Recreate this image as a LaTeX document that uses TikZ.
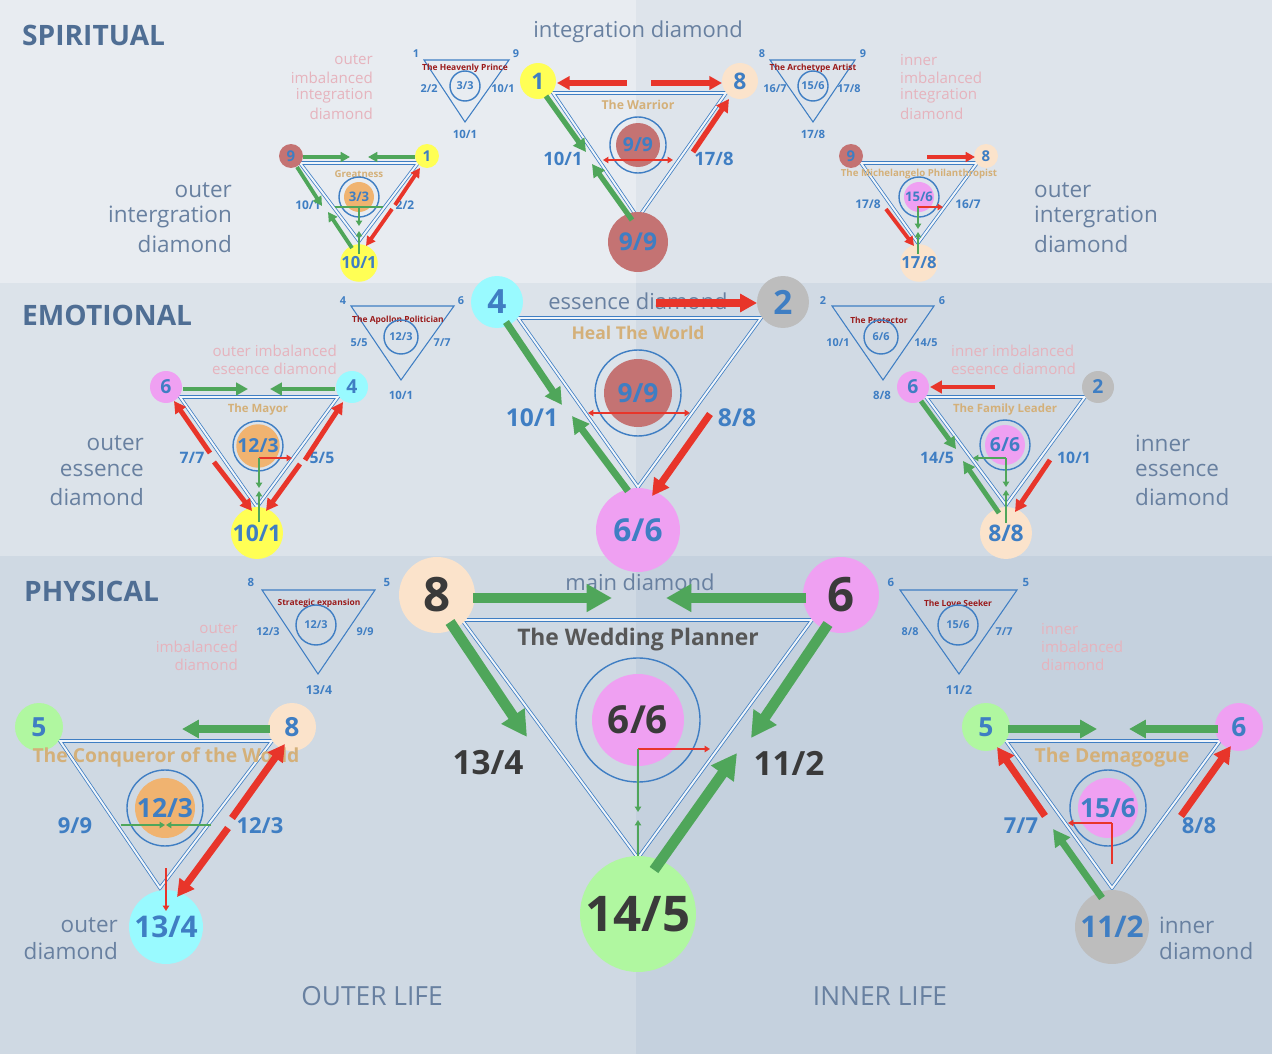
\documentclass[tikz,border=0pt]{standalone}
\usepackage{fontspec}
\setmainfont{Open Sans}
\usetikzlibrary{arrows.meta}
\definecolor{tblue}{HTML}{3F7EC3}
\definecolor{agreen}{HTML}{4FA65A}
\definecolor{ared}{HTML}{E8352A}
\definecolor{ctan}{HTML}{D4B079}
\definecolor{cpinkt}{HTML}{E6B3BD}
\definecolor{cgrey}{HTML}{6880A0}
\definecolor{chead}{HTML}{4F6E94}
\definecolor{cdred}{HTML}{9A1B1B}
\definecolor{cyel}{HTML}{FFFF55}
\definecolor{cpeach}{HTML}{FBE3CB}
\definecolor{cdr}{HTML}{C47373}
\definecolor{cpink}{HTML}{EFA0F2}
\definecolor{ccyan}{HTML}{99FAFF}
\definecolor{cgr}{HTML}{BDBDBD}
\definecolor{clg}{HTML}{B0F7A0}
\definecolor{cor}{HTML}{F0B370}
\definecolor{cdark}{HTML}{3A3A3A}
\definecolor{bga}{HTML}{E8ECF1}
\definecolor{bgb}{HTML}{DEE4EB}
\definecolor{bgc}{HTML}{DCE3EA}
\definecolor{bgd}{HTML}{D1DAE4}
\definecolor{bge}{HTML}{CFD9E3}
\definecolor{bgf}{HTML}{C5D1DE}
\newcommand\fsz[1]{\fontsize{#1pt}{#1pt}\selectfont}
\newcommand\ball[7][tblue]{\node[circle,fill=#2,minimum size={#3*0.04cm},inner sep=0pt,text=#1,font=\bfseries\fsz{#6}] at (#4,#5) {#7};}
\newcommand\ring[3]{\draw[tblue,line width=0.8pt] (#1,#2) circle[radius={#3*0.02cm}];}
\newcommand\tri[5]{\draw[triline] (#1,#3) -- (#2,#3) -- (#4,#5) -- cycle;}
\newcommand\stri[5]{\draw[tblue,line width=0.6pt] (#1,#3) -- (#2,#3) -- (#4,#5) -- cycle;}
\newcommand\lab[4]{\node[text=tblue,font=\bfseries\fsz{#1}] at (#2,#3) {#4};}
\newcommand\titl[4]{\node[text=ctan,font=\bfseries\fsz{#1}] at (#2,#3) {#4};}
\newcommand\stitl[3]{\node[text=cdred,font=\bfseries\fsz{4.8}] at (#1,#2) {#3};}
\newcommand\pr[4]{\node[text=cpinkt,font=\fsz{8.6},anchor=#1] at (#2,#3) {#4};}
\newcommand\gr[5]{\node[text=cgrey,font=\fsz{#1},anchor=#2] at (#3,#4) {#5};}
\tikzset{
 triline/.style={draw=tblue,line width=0.45pt,double=white!60!tblue!20,double distance=1.1pt},
 ga/.style={draw=agreen,line width=#1,-{Triangle[length=0pt 2.4,width=0pt 2.5]}},
 ra/.style={draw=ared,line width=#1,-{Triangle[length=0pt 2.4,width=0pt 2.5]}},
 gt/.style={draw=agreen,line width=1.2pt,-{Triangle[length=3pt,width=3.5pt]}},
 rt/.style={draw=ared,line width=1.2pt,-{Triangle[length=3pt,width=3.5pt]}},
 rtt/.style={draw=ared,line width=1.2pt,{Triangle[length=3pt,width=3.5pt]}-{Triangle[length=3pt,width=3.5pt]}},
}
\begin{document}
\begin{tikzpicture}[x=0.02cm,y=-0.02cm]
\useasboundingbox (0,0) rectangle (1272,1054);
\fill[bga] (0,0) rectangle (636,283);
\fill[bgb] (636,0) rectangle (1272,283);
\fill[bgc] (0,283) rectangle (636,556);
\fill[bgd] (636,283) rectangle (1272,556);
\fill[bge] (0,556) rectangle (636,1054);
\fill[bgf] (636,556) rectangle (1272,1054);
\node[text=chead,font=\bfseries\fsz{16},anchor=west] at (16,35) {SPIRITUAL};
\node[text=chead,font=\bfseries\fsz{16},anchor=west] at (16,315) {EMOTIONAL};
\node[text=chead,font=\bfseries\fsz{16},anchor=west] at (18,591) {PHYSICAL};
\gr{15}{center}{372}{996}{OUTER LIFE}
\gr{15}{center}{880}{996}{INNER LIFE}

%%%%% SPIRITUAL
\gr{12.5}{center}{638}{32}{integration diamond}
\tri{553}{726}{93}{638}{218}
\titl{7}{638}{105}{The Warrior}
\ring{638}{145}{28}
\ball{cdr}{22}{638}{145}{11}{9/9}
\ball{cyel}{18}{538}{81}{13}{1}
\ball{cpeach}{18}{740}{81}{13}{8}
\ball{cdr}{30}{638}{242}{14}{9/9}
\lab{10.5}{563}{159}{10/1}
\lab{10.5}{714}{159}{17/8}
\draw[ra=3pt] (627,83) -- (557,83);
\draw[ra=3pt] (651,83) -- (722,83);
\draw[ga=3pt] (546,96) -- (586,152);
\draw[ga=3pt] (632,220) -- (592,164);
\draw[ra=3pt] (693,152) -- (729,99);
\draw[rtt] (603,160) -- (673,160);
% Heavenly Prince
\stri{424}{509}{60}{465}{122}
\stitl{465}{68}{The Heavenly Prince}
\ring{465}{86}{15}
\lab{6.2}{465}{86}{3/3}
\lab{6.2}{416}{54}{1}\lab{6.2}{516}{54}{9}
\lab{6.2}{429}{89}{2/2}\lab{6.2}{503}{89}{10/1}
\lab{6.5}{465}{134}{10/1}
\pr{east}{379}{60}{outer}\pr{east}{379}{78}{imbalanced}\pr{east}{379}{96}{integration}\pr{east}{379}{114}{diamond}
% Greatness
\tri{300}{418}{163}{359}{241}
\titl{5.5}{359}{174}{Greatness}
\ring{359}{197}{20}
\ball{cor}{15}{359}{197}{7.5}{3/3}
\ball{cdr}{12}{291}{156}{8.5}{9}
\ball{cyel}{12}{427}{156}{8.5}{1}
\ball{cyel}{18}{359}{263}{9.5}{10/1}
\lab{6.8}{308}{205}{10/1}\lab{6.8}{405}{205}{2/2}
\draw[ga=2.2pt] (303,157) -- (350,157);
\draw[ga=2.2pt] (415,157) -- (368,157);
\draw[ga=2.2pt] (297,167) -- (322,206);
\draw[ga=2.2pt] (352,248) -- (328,212);
\draw[ra=2.2pt] (395,205) -- (420,168);
\draw[ra=2.2pt] (392,209) -- (366,246);
\draw[agreen,line width=1pt] (335,207) -- (383,207);
\draw[gt,line width=0.9pt] (359,206) -- (359,226);
\draw[gt,line width=0.9pt] (359,254) -- (359,231);
\gr{12.8}{east}{238}{190}{outer}\gr{12.8}{east}{238}{217}{intergration}\gr{12.8}{east}{238}{244}{diamond}
% Archetype Artist
\stri{770}{855}{60}{813}{122}
\stitl{813}{68}{The Archetype Artist}
\ring{813}{86}{15}
\lab{6.2}{813}{86}{15/6}
\lab{6.2}{762}{54}{8}\lab{6.2}{863}{54}{9}
\lab{6.2}{775}{89}{16/7}\lab{6.2}{849}{89}{17/8}
\lab{6.5}{813}{134}{17/8}
\pr{west}{894}{60}{inner}\pr{west}{894}{78}{imbalanced}\pr{west}{894}{96}{integration}\pr{west}{894}{114}{diamond}
% Michelangelo
\tri{861}{977}{163}{918}{243}
\ring{919}{197}{20}
\ball{cpink}{15}{919}{197}{7.5}{15/6}
\titl{5.5}{919}{174}{The Michelangelo Philanthropist}
\ball{cdr}{12}{851}{156}{8.5}{9}
\ball{cpeach}{12}{986}{156}{8.5}{8}
\ball{cpeach}{18}{919}{263}{9.5}{17/8}
\lab{6.8}{868}{204}{17/8}\lab{6.8}{968}{204}{16/7}
\draw[ra=2.2pt] (927,157) -- (975,157);
\draw[ra=2.2pt] (886,209) -- (914,246);
\draw[gt,line width=0.9pt] (918,206) -- (918,229);
\draw[gt,line width=0.9pt] (918,254) -- (918,232);
\draw[rt,line width=0.9pt] (918,207) -- (943,207);
\gr{12.8}{west}{1028}{190}{outer}\gr{12.8}{west}{1028}{217}{intergration}\gr{12.8}{west}{1028}{244}{diamond}

%%%%% EMOTIONAL
\gr{12.5}{center}{638}{301}{essence diamond}
\tri{518}{761}{318}{638}{487}
\titl{10}{638}{333}{Heal The World}
\ring{638}{393}{43}
\ball{cdr}{34}{638}{393}{15}{9/9}
\ball{ccyan}{26}{497}{302}{19}{4}
\ball{cgr}{26}{783}{302}{19}{2}
\ball{cpink}{42}{638}{530}{18}{6/6}
\lab{14}{532}{418}{10/1}\lab{14}{737}{418}{8/8}
\draw[ga=4pt] (506,322) -- (562,405);
\draw[ga=4pt] (628,491) -- (572,416);
\draw[ra=4pt] (656,303) -- (757,303);
\draw[ra=4pt] (710,414) -- (652,496);
\draw[rtt] (588,413) -- (690,413);
% Apollon
\stri{351}{454}{306}{401}{380}
\stitl{398}{320}{The Apollon Politician}
\ring{401}{337}{17}
\lab{6.2}{401}{337}{12/3}
\lab{6.2}{343}{301}{4}\lab{6.2}{461}{301}{6}
\lab{6.2}{359}{343}{5/5}\lab{6.2}{442}{343}{7/7}
\lab{6.5}{401}{395}{10/1}
\pr{east}{343}{351}{outer imbalanced}\pr{east}{343}{369}{eseence diamond}
% Mayor
\tri{180}{338}{397}{257}{507}
\titl{6.5}{258}{410}{The Mayor}
\ring{258}{446}{25}
\ball{cor}{20}{258}{446}{11}{12/3}
\ball{cpink}{16}{166}{387}{11}{6}
\ball{ccyan}{16}{352}{387}{11}{4}
\ball{cyel}{26}{257}{533}{13}{10/1}
\lab{9}{192}{458}{7/7}\lab{9}{322}{458}{5/5}
\draw[ga=2.8pt] (183,389) -- (248,389);
\draw[ga=2.8pt] (335,389) -- (270,389);
\draw[ra=2.8pt] (210,453) -- (174,401);
\draw[ra=2.8pt] (214,462) -- (252,511);
\draw[ra=2.8pt] (305,460) -- (343,402);
\draw[ra=2.8pt] (300,464) -- (266,511);
\draw[rt] (259,458) -- (292,458);
\draw[gt] (259,458) -- (259,488);
\draw[gt] (259,522) -- (259,491);
\gr{12.8}{east}{150}{443}{outer}\gr{12.8}{east}{150}{470}{essence}\gr{12.8}{east}{150}{497}{diamond}
% Protector
\stri{832}{934}{306}{883}{380}
\stitl{879}{320}{The Protector}
\ring{881}{337}{17}
\lab{6.2}{881}{337}{6/6}
\lab{6.2}{823}{301}{2}\lab{6.2}{942}{301}{6}
\lab{6.2}{838}{343}{10/1}\lab{6.2}{926}{343}{14/5}
\lab{6.5}{882}{395}{8/8}
\pr{west}{945}{351}{inner imbalanced}\pr{west}{945}{369}{eseence diamond}
% Family Leader
\tri{926}{1085}{397}{1006}{505}
\titl{6.5}{1005}{410}{The Family Leader}
\ring{1005}{445}{25}
\ball{cpink}{20}{1005}{445}{11}{6/6}
\ball{cpink}{16}{913}{387}{11}{6}
\ball{cgr}{16}{1098}{387}{11}{2}
\ball{cpeach}{26}{1006}{533}{13}{8/8}
\lab{9}{937}{458}{14/5}\lab{9}{1074}{458}{10/1}
\draw[ra=2.8pt] (995,387) -- (930,387);
\draw[ga=2.8pt] (921,401) -- (956,449);
\draw[ga=2.8pt] (999,513) -- (963,461);
\draw[ra=2.8pt] (1050,460) -- (1015,512);
\draw[gt] (1006,458) -- (973,458);
\draw[gt] (1006,458) -- (1006,487);
\draw[gt] (1006,523) -- (1006,490);
\gr{12.8}{west}{1129}{443}{inner}\gr{12.8}{west}{1129}{470}{essence}\gr{12.8}{west}{1129}{497}{diamond}

%%%%% PHYSICAL
\gr{12.5}{center}{640}{582}{main diamond}
\tri{462}{812}{620}{638}{858}
\node[text=cdark!85,font=\bfseries\fsz{13}] at (638,640) {The Wedding Planner};
\ring{638}{720}{62}
\ball[cdark]{cpink}{46}{638}{720}{22}{6/6}
\ball[cdark]{cpeach}{38}{437}{595}{27}{8}
\ball[cdark]{cpink}{38}{841}{595}{27}{6}
\ball[cdark]{clg}{58}{638}{914}{28}{14/5}
\node[text=cdark,font=\bfseries\fsz{19}] at (488,763) {13/4};
\node[text=cdark,font=\bfseries\fsz{19}] at (789,763) {11/2};
\draw[ga=6pt] (473,598) -- (612,598);
\draw[ga=6pt] (806,598) -- (666,598);
\draw[ga=6pt] (450,622) -- (527,737);
\draw[ga=6pt] (828,624) -- (751,738);
\draw[ga=6pt] (654,870) -- (737,753);
\draw[rt,line width=1.5pt] (638,749) -- (710,749);
\draw[gt,line width=1.5pt] (638,749) -- (638,812);
\draw[gt,line width=1.5pt] (638,856) -- (638,820);
% Strategic expansion
\stri{262}{375}{590}{318}{674}
\stitl{319}{603}{Strategic expansion}
\ring{316}{625}{20}
\lab{6.2}{316}{625}{12/3}
\lab{6.5}{251}{582}{8}\lab{6.5}{387}{582}{5}
\lab{6.2}{268}{632}{12/3}\lab{6.2}{365}{632}{9/9}
\lab{7}{319}{690}{13/4}
\pr{east}{244}{629}{outer}\pr{east}{244}{647}{imbalanced}\pr{east}{244}{665}{diamond}
% Conqueror
\tri{60}{272}{741}{160}{888}
\ring{165}{808}{38}
\ball{cor}{30}{165}{808}{15}{12/3}
\ball{clg}{24}{39}{727}{15}{5}
\ball{cpeach}{24}{292}{727}{15}{8}
\ball{ccyan}{37}{166}{927}{17}{13/4}
\titl{11}{166}{757}{The Conqueror of the World}
\lab{12.5}{75}{826}{9/9}\lab{12.5}{260}{826}{12/3}
\draw[ga=4pt] (270,729) -- (182,729);
\draw[ra=4pt] (232,818) -- (285,744);
\draw[ra=4pt] (228,828) -- (177,897);
\draw[rt,line width=1.5pt] (166,868) -- (166,911);
\draw[gt] (121,825) -- (165,825);
\draw[gt] (211,825) -- (166,825);
\gr{12.8}{east}{124}{925}{outer}\gr{12.8}{east}{124}{951}{diamond}
% Love Seeker
\stri{900}{1017}{590}{959}{674}
\stitl{958}{603}{The Love Seeker}
\ring{958}{625}{20}
\lab{6.2}{958}{625}{15/6}
\lab{6.5}{891}{582}{6}\lab{6.5}{1026}{582}{5}
\lab{6.2}{910}{632}{8/8}\lab{6.2}{1004}{632}{7/7}
\lab{7}{959}{690}{11/2}
\pr{west}{1035}{629}{inner}\pr{west}{1035}{647}{imbalanced}\pr{west}{1035}{665}{diamond}
% Demagogue
\tri{1006}{1220}{741}{1112}{888}
\ring{1108}{808}{38}
\ball{cpink}{30}{1108}{808}{15}{15/6}
\ball{clg}{24}{986}{727}{15}{5}
\ball{cpink}{24}{1239}{727}{15}{6}
\ball{cgr}{37}{1112}{927}{17}{11/2}
\titl{11}{1112}{757}{The Demagogue}
\lab{12.5}{1021}{826}{7/7}\lab{12.5}{1199}{826}{8/8}
\draw[ga=4pt] (1008,729) -- (1097,729);
\draw[ga=4pt] (1218,729) -- (1129,729);
\draw[ra=4pt] (1045,816) -- (997,747);
\draw[ra=4pt] (1181,816) -- (1231,746);
\draw[ga=4pt] (1102,898) -- (1053,829);
\draw[draw=ared,line width=1.2pt] (1112,864) -- (1112,823);
\draw[rt] (1112,823) -- (1068,823);
\gr{12.8}{west}{1153}{925}{inner}\gr{12.8}{west}{1153}{951}{diamond}
\end{tikzpicture}
\end{document}
